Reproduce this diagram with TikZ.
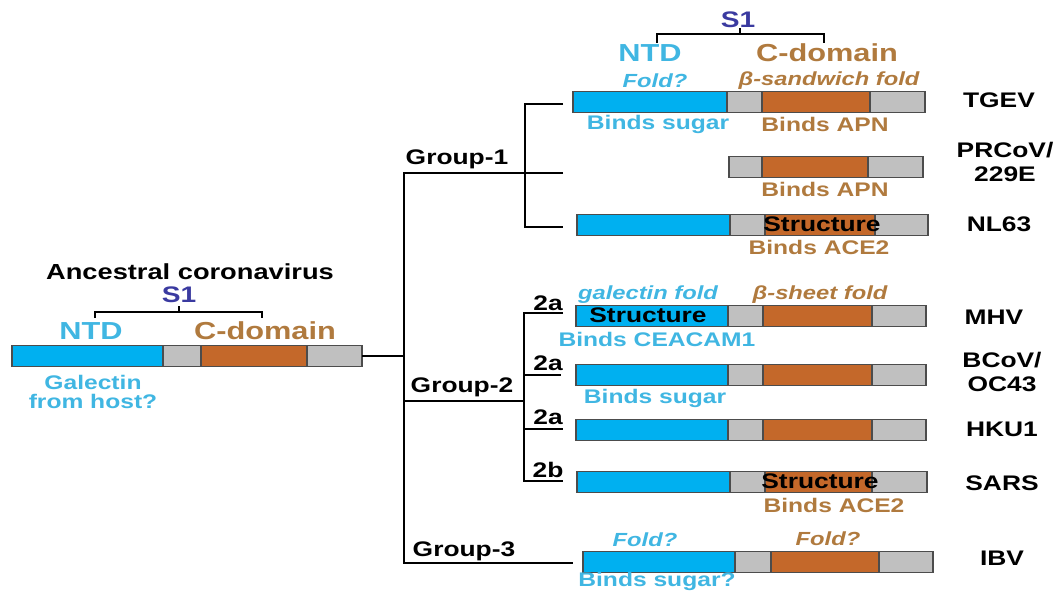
\documentclass[tikz,border=0pt]{standalone}
\usepackage{fontspec}
\setmainfont[FakeStretch=1.25]{Liberation Sans}
\usepackage{tikz}

\definecolor{ntdbar}{RGB}{0,176,240}
\definecolor{ntdtxt}{RGB}{64,182,226}
\definecolor{cdbar}{RGB}{196,104,42}
\definecolor{cdtxt}{RGB}{176,122,62}
\definecolor{linkbar}{RGB}{192,192,192}
\definecolor{sonetxt}{RGB}{58,58,160}
\newcommand{\fsz}[2]{\fontsize{#1}{#2}\selectfont}

\begin{document}
\begin{tikzpicture}[x=0.025cm, y=-0.025cm,
  seg/.style={draw=black!70, line width=0.9pt},
  tree/.style={line width=1.7pt},
  brace/.style={line width=1.2pt},
  lbl/.style={inner sep=0pt, font=\bfseries\fsz{14}{14}},
  ntdlbl/.style={lbl, text=ntdtxt},
  cdlbl/.style={lbl, text=cdtxt},
  foldlbl/.style={font=\bfseries\itshape\fsz{13.5}{16}},
  head/.style={inner sep=0pt, font=\bfseries\fsz{17.5}{20}},
  sone/.style={inner sep=0pt, text=sonetxt, font=\bfseries\fsz{16}{18}},
  virus/.style={inner sep=0pt, align=center, font=\bfseries\fsz{15}{16.5}},
  grp/.style={inner sep=0pt, font=\bfseries\fsz{15}{17}},
  struct/.style={inner sep=0pt, font=\bfseries\fsz{15}{17}}]
  \useasboundingbox (0,0) rectangle (1058,592);

  % S1 bars: name/y/start/NTD end/linker end/C-domain end/end
  \foreach \nm/\y/\a/\b/\c/\d/\e in {anc/356/12/163/201/307/362,
      tgev/102/573/727/762/870/925, prcov/167/729/729/762/868/923,
      nl63/225/577/730/765/875/928, mhv/316/576/728/763/872/926,
      bcov/375/576/728/763/872/926, hku1/430/576/728/763/872/926,
      sars/482/577/730/765/872/927, ibv/562/583/735/771/879/933} {
    \draw[seg, fill=ntdbar] (\a,\y-10.5) rectangle (\b,\y+10.5);
    \draw[seg, fill=linkbar] (\b,\y-10.5) rectangle (\c,\y+10.5);
    \draw[seg, fill=cdbar] (\c,\y-10.5) rectangle (\d,\y+10.5);
    \draw[seg, fill=linkbar] (\d,\y-10.5) rectangle (\e,\y+10.5);
    \coordinate (\nm) at (\e,\y);
  }

  % tree
  \coordinate (root) at (404,356);
  \coordinate (g1) at (404,173);
  \coordinate (g1j) at (525,173);
  \coordinate (g2) at (404,401);
  \coordinate (g2j) at (524,401);
  \coordinate (g3) at (404,563);
  \coordinate (tgev-l) at (563,104);
  \coordinate (prcov-l) at (563,173);
  \coordinate (nl63-l) at (563,227);
  \coordinate (mhv-l) at (563,313);
  \coordinate (bcov-l) at (561,375);
  \coordinate (hku1-l) at (563,429);
  \coordinate (sars-l) at (563,481);
  \coordinate (ibv-l) at (573,563);

  \draw[tree] (anc) -- (root);
  \draw[tree] (prcov-l) -- (g1) -- (g3) -- (ibv-l);
  \draw[tree] (tgev-l) -| (g1j) |- (nl63-l);
  \draw[tree] (g2) -- (g2j);
  \draw[tree] (mhv-l) -| (g2j) |- (sars-l);
  \draw[tree] (g2j |- bcov-l) -- (bcov-l);
  \draw[tree] (g2j |- hku1-l) -- (hku1-l);

  \node[grp] (grp1) at (457,159) {Group-1};
  \node[grp] (grp2) at (462,387) {Group-2};
  \node[grp] (grp3) at (464,551) {Group-3};
  \node[grp] (sub-mhv) at (548,303) {2a};
  \node[grp] (sub-bcov) at (548,363) {2a};
  \node[grp] (sub-hku1) at (548,417) {2a};
  \node[grp] (sub-sars) at (548,470) {2b};

  % ancestral protein
  \node[lbl, font=\bfseries\fsz{15.5}{18}] (anc-title) at (190,272) {Ancestral coronavirus};
  \node[sone] (anc-s1) at (179,295) {S1};
  \draw[brace] (95,318) -- (95,312) -- (262,312) -- (262,318) (179,312) -- (179,306);
  \node[head, text=ntdtxt] (anc-ntd) at (91,331) {NTD};
  \node[head, text=cdtxt] (anc-cd) at (265,331) {C-domain};
  \node[ntdlbl, align=center] (anc-gal) at (93,392) {Galectin\\from host?};

  % header
  \node[sone] (s1) at (738,20) {S1};
  \draw[brace] (657,43) -- (657,34) -- (824,34) -- (824,43) (740,34) -- (740,28);
  \node[head, text=ntdtxt] (ntd) at (650,53) {NTD};
  \node[head, text=cdtxt] (cdom) at (827,53) {C-domain};

  % group 1
  \node[ntdlbl, foldlbl] (tgev-fold) at (655,81) {Fold?};
  \node[cdlbl, foldlbl] (tgev-cfold) at (829,81) {β-sandwich fold};
  \node[ntdlbl] (tgev-sugar) at (658,124) {Binds sugar};
  \node[cdlbl] (tgev-apn) at (825,124) {Binds APN};
  \node[cdlbl] (prcov-apn) at (825,189) {Binds APN};
  \node[struct] (nl63-str) at (822,224) {Structure};
  \node[cdlbl] (nl63-ace) at (819,247) {Binds ACE2};

  % group 2
  \node[ntdlbl, foldlbl] (mhv-fold) at (648,295) {galectin fold};
  \node[cdlbl, foldlbl] (mhv-cfold) at (820,295) {β-sheet fold};
  \node[struct] (mhv-str) at (648,315) {Structure};
  \node[ntdlbl] (mhv-cea) at (657,339) {Binds CEACAM1};
  \node[ntdlbl] (bcov-sugar) at (655,398) {Binds sugar};
  \node[struct] (sars-str) at (820,481) {Structure};
  \node[cdlbl] (sars-ace) at (834,505) {Binds ACE2};

  % group 3
  \node[ntdlbl, foldlbl] (ibv-fold) at (645,540) {Fold?};
  \node[cdlbl, foldlbl] (ibv-cfold) at (828,539) {Fold?};
  \node[ntdlbl] (ibv-sugar) at (657,581) {Binds sugar?};

  % virus names
  \node[virus] (tgev-name) at (999,100) {TGEV};
  \node[virus] (prcov-name) at (1005,162) {PRCoV/\\229E};
  \node[virus] (nl63-name) at (999,224) {NL63};
  \node[virus] (mhv-name) at (994,317) {MHV};
  \node[virus] (bcov-name) at (1002,372) {BCoV/\\OC43};
  \node[virus] (hku1-name) at (1002,429) {HKU1};
  \node[virus] (sars-name) at (1002,483) {SARS};
  \node[virus] (ibv-name) at (1002,558) {IBV};
\end{tikzpicture}
\end{document}
